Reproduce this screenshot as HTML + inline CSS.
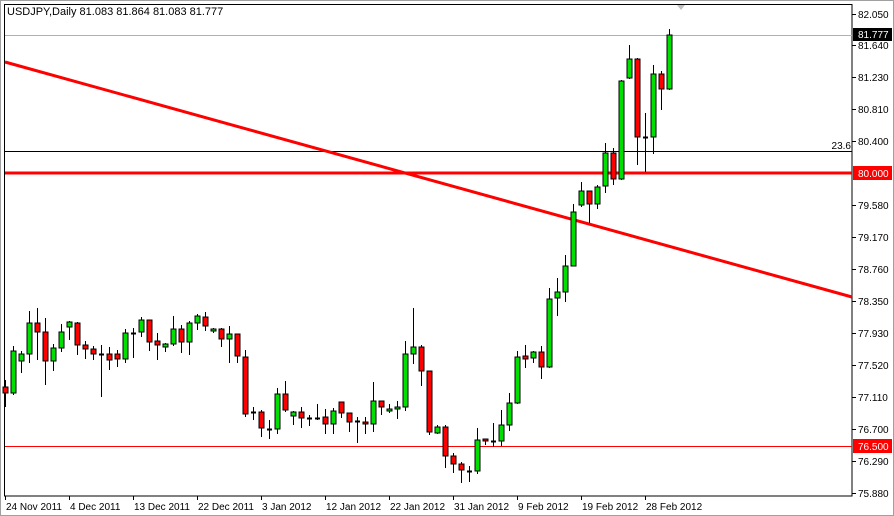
<!DOCTYPE html>
<html><head><meta charset="utf-8"><style>
html,body{margin:0;padding:0;background:#fff;}
svg{display:block;font-family:"Liberation Sans",Arial,sans-serif;}
</style></head><body>
<svg id="s" width="894" height="516" xmlns="http://www.w3.org/2000/svg">
<rect x="0" y="0" width="894" height="516" fill="#fff"/>
<rect x="0.5" y="0.5" width="893" height="515" fill="none" stroke="#a0a0a0"/>
<rect x="4.5" y="4.5" width="847.5" height="491.5" fill="none" stroke="#000"/>
<polygon points="677,5 685,5 681,10" fill="#c0c0c0"/>
<line x1="5" y1="35.5" x2="852" y2="35.5" stroke="#b0b0b0"/>
<line x1="5" y1="151.5" x2="852" y2="151.5" stroke="#000"/>
<text x="851" y="149" font-size="10" text-anchor="end">23.6</text>
<line x1="5" y1="173" x2="852" y2="173" stroke="#f00" stroke-width="3"/>
<line x1="5" y1="446.5" x2="852" y2="446.5" stroke="#f00"/>
<line x1="5" y1="62" x2="852" y2="297" stroke="#f00" stroke-width="3"/>
<g id="c"></g>
<text x="7" y="15" font-size="11">USDJPY,Daily  81.083 81.864 81.083 81.777</text>
<g font-size="10" fill="#000" id="ax"></g>
<rect x="853" y="28" width="39" height="13" fill="#000"/>
<text x="858" y="38" font-size="10" fill="#fff">81.777</text>
<rect x="853" y="166" width="39" height="14" fill="#f00"/>
<text x="858" y="177" font-size="10" fill="#fff">80.000</text>
<rect x="853" y="439" width="39" height="14" fill="#f00"/>
<text x="858" y="450" font-size="10" fill="#fff">76.500</text>
</svg>
<script>
var d=[[5,380,387,393,407,'r'],[13,346,351,393,395,'g'],[21,351,354,361,373,'g'],[29,311,323,354,363,'g'],[37,308,323,332,360,'r'],[45,318,332,361,385,'r'],[53,344,348,361,371,'g'],[61,324,332,348,352,'g'],[69,321,322,327,340,'g'],[77,322,323,345,355,'r'],[85,341,345,349,359,'r'],[93,346,349,354,360,'r'],[101,345,354,354,397,'d'],[109,347,354,360,370,'r'],[117,350,354,359,367,'r'],[125,329,333,359,363,'g'],[133,328,333,333,358,'d'],[141,317,320,332,337,'g'],[149,320,320,342,351,'r'],[157,333,341,345,360,'r'],[165,343,344,347,352,'g'],[173,316,329,344,346,'g'],[181,325,329,342,353,'r'],[189,321,323,342,355,'g'],[197,314,316,323,330,'g'],[205,312,317,326,331,'r'],[213,328,329,331,333,'g'],[221,328,329,339,347,'r'],[229,326,334,339,363,'g'],[237,334,334,356,363,'r'],[245,350,357,414,417,'r'],[253,407,412,412,420,'d'],[261,410,412,428,437,'r'],[269,420,429,429,439,'d'],[277,388,394,429,434,'g'],[285,381,394,410,412,'r'],[293,411,412,416,425,'g'],[301,407,412,418,428,'r'],[309,415,418,418,426,'d'],[317,404,418,418,420,'d'],[325,409,417,424,434,'r'],[333,408,411,424,434,'g'],[341,402,402,413,418,'r'],[349,413,413,422,432,'r'],[357,417,421,421,443,'d'],[365,417,422,424,434,'r'],[373,382,401,424,432,'g'],[381,401,401,407,415,'r'],[389,404,409,411,413,'g'],[397,401,407,409,419,'g'],[405,341,354,407,411,'g'],[413,308,347,354,364,'g'],[421,345,347,371,386,'r'],[429,371,371,432,435,'r'],[437,425,427,433,434,'g'],[445,425,427,456,468,'r'],[453,453,456,464,473,'r'],[461,462,464,470,483,'r'],[469,466,471,471,482,'d'],[477,428,440,471,474,'g'],[485,439,439,441,445,'r'],[493,423,441,441,447,'d'],[501,410,425,441,446,'g'],[509,393,403,425,431,'g'],[517,351,357,403,404,'g'],[525,345,356,359,368,'r'],[533,351,352,358,363,'g'],[541,346,352,367,379,'r'],[549,288,299,367,368,'g'],[557,278,292,298,316,'g'],[565,255,266,292,302,'g'],[573,204,212,266,266,'g'],[581,182,191,205,207,'g'],[589,191,191,204,223,'r'],[597,185,187,204,209,'g'],[605,143,153,186,193,'g'],[613,148,153,179,185,'r'],[621,80,81,179,180,'g'],[629,45,59,78,79,'g'],[637,58,59,137,165,'r'],[645,113,137,137,172,'d'],[653,65,74,137,154,'g'],[661,71,74,89,110,'r'],[669,29,35,89,90,'g']];
var h='';
d.forEach(function(c){var x=c[0];
h+='<line x1="'+(x+.5)+'" y1="'+c[1]+'" x2="'+(x+.5)+'" y2="'+c[4]+'" stroke="#000"/>';
if(c[5]=='d'){h+='<line x1="'+(x-2)+'" y1="'+(c[2]+.5)+'" x2="'+(x+3)+'" y2="'+(c[2]+.5)+'" stroke="#000" stroke-width="2"/>';}
else{h+='<rect x="'+(x-2)+'" y="'+c[2]+'" width="5" height="'+Math.max(1,c[3]-c[2])+'" fill="'+(c[5]=='g'?'#00e000':'#f00')+'" stroke="#000" stroke-width="1"/>';}
});
document.getElementById('c').innerHTML=h;
var p=[['82.050',14],['81.640',45],['81.230',77],['80.810',109],['80.400',141],['79.580',205],['79.170',237],['78.760',269],['78.350',301],['77.930',333],['77.520',365],['77.110',397],['76.700',429],['76.290',461],['75.880',493]];
var a='';
p.forEach(function(q){a+='<line x1="852" y1="'+(q[1]+.5)+'" x2="856" y2="'+(q[1]+.5)+'" stroke="#000"/><text x="858" y="'+(q[1]+4)+'">'+q[0]+'</text>';});
var t=[['24 Nov 2011',5],['4 Dec 2011',69],['13 Dec 2011',133],['22 Dec 2011',197],['3 Jan 2012',261],['12 Jan 2012',325],['22 Jan 2012',389],['31 Jan 2012',453],['9 Feb 2012',517],['19 Feb 2012',581],['28 Feb 2012',645]];
t.forEach(function(q){a+='<line x1="'+(q[1]+.5)+'" y1="496" x2="'+(q[1]+.5)+'" y2="500" stroke="#000"/><text x="'+(q[1]+1)+'" y="510">'+q[0]+'</text>';});
document.getElementById('ax').innerHTML=a;
</script>
</body></html>
